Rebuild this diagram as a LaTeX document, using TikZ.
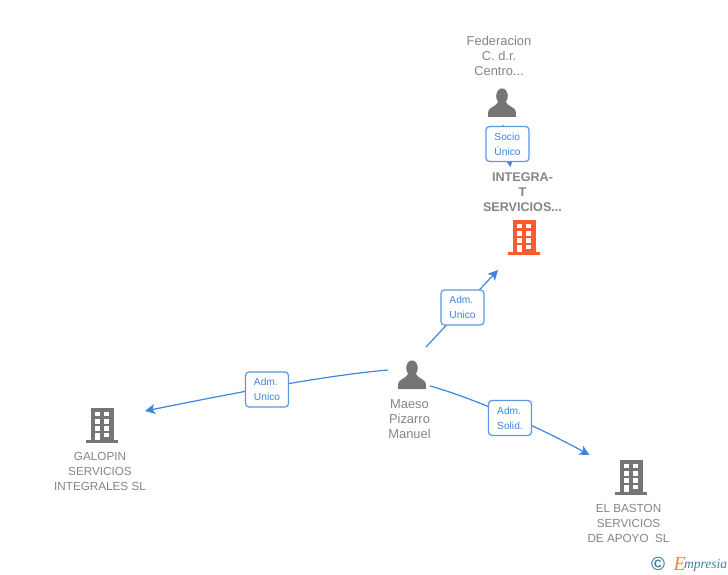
\documentclass[tikz,border=0pt]{standalone}
\usepackage{fontspec}
\setmainfont{Liberation Sans}
\newfontfamily\logofont{Liberation Serif}
\usetikzlibrary{arrows.meta}
\definecolor{linkblue}{HTML}{3F85DE}
\definecolor{icongrey}{HTML}{757575}
\definecolor{textgrey}{HTML}{858585}
\definecolor{mainorange}{HTML}{FF5A2B}
\definecolor{logoteal}{HTML}{3E7F96}
\definecolor{logoorange}{HTML}{EE8A2C}
\tikzset{
  link/.style={draw=linkblue, line width=1.2pt, -{Stealth[length=10pt, width=10pt, inset=2.5pt]}},
  linkbox/.style={draw=linkblue!85, line width=1.2pt, fill=white, rounded corners=3.5pt, minimum width=43pt, minimum height=35pt, inner sep=0pt, align=left, text=linkblue, font=\fontsize{10.2}{15}\selectfont, execute at begin node=\vspace*{2pt}},
  namelabel/.style={align=center, inner sep=0pt, text=textgrey, font=\fontsize{12.9}{15}\selectfont},
  capslabel/.style={namelabel, font=\fontsize{11.7}{15}\selectfont},
  mainlabel/.style={namelabel, font=\fontsize{12.6}{15}\selectfont\bfseries},
  person/.pic={
    \fill[icongrey] (0,-21) ellipse (5.8 and 7.6);
    \fill[icongrey] (-14,0) -- (-13.7,-6) .. controls (-13,-9.5) and (-6,-10.5) .. (-4,-15) -- (4,-15) .. controls (6,-10.5) and (13,-9.5) .. (13.7,-6) -- (14,0) -- cycle;
  },
  building/.pic={
    \fill[pic actions] (-11.5,-2.5) rectangle (11.5,-35);
    \fill[pic actions] (-16,0) rectangle (16,-2.5);
    \foreach \wy in {-31,-23.5,-16.5,-10}
      \foreach \wx in {-7,2}
        \fill[white] (\wx,\wy) rectangle ++(5,4.5);
    \fill[white] (-7,-10) rectangle (-2,-2.5);
  }
}
\begin{document}
\begin{tikzpicture}[x=1pt, y=-1pt]
\useasboundingbox (0,0) rectangle (728,575);
% Icons
\pic at (502,117) {person};
\pic at (412,389) {person};
\pic[fill=mainorange] at (524,254.5) {building};
\pic[fill=icongrey] at (102,442.5) {building};
\pic[fill=icongrey] at (631,494.5) {building};
% Text
\node[namelabel] (federacion) at (499,55.7) {Federacion\\C. d.r.\\Centro...};
\node[mainlabel] (integra) at (522.5,192.3) {INTEGRA-\\T\\SERVICIOS...};
\node[namelabel] (maeso) at (409.5,418.7) {Maeso\\Pizarro\\Manuel};
\node[capslabel] (galopin) at (100,471) {GALOPIN\\SERVICIOS\\INTEGRALES SL};
\node[capslabel] (baston) at (628.5,523) {EL BASTON\\SERVICIOS\\DE APOYO~~SL};
% Ends
\coordinate (federacionout) at (503,125);
\coordinate (integrain) at (510.5,167);
\coordinate (maesotop) at (426,347);
\coordinate (integralow) at (498,270);
\coordinate (maesoleft) at (388,370);
\coordinate (galopinin) at (145,411);
\coordinate (maesoright) at (430,386);
\coordinate (bastonin) at (589.5,455);
% Links
\draw[link] (federacionout) -- (integrain);
\draw[link] (maesotop) -- (integralow);
\draw[link] (maesoleft) .. controls (320,376) and (230,394) .. (galopinin);
\draw[link] (maesoright) .. controls (470,397) and (535,425) .. (bastonin);
% Boxes
\node[linkbox] (socio) at (507.5,144) {Socio\\Único};
\node[linkbox] (admtop) at (462.5,307.5) {Adm.\\Unico};
\node[linkbox] (admleft) at (267,389.5) {Adm.\\Unico};
\node[linkbox] (admright) at (510,418) {Adm.\\Solid.};
% Logo
\node[inner sep=0pt, text=logoteal, font=\fontsize{19}{19}\selectfont\bfseries] (copyright) at (658,564) {\textcopyright};
\node[inner sep=0pt, text=logoteal, font=\logofont\itshape\fontsize{13.5}{13.5}\selectfont, anchor=base west] (logotext) at (684,568) {mpresia};
\node[inner sep=0pt, text=logoorange, font=\logofont\itshape\fontsize{20}{20}\selectfont, anchor=base east] (logoe) at (686,570) {E};
\end{tikzpicture}
\end{document}
